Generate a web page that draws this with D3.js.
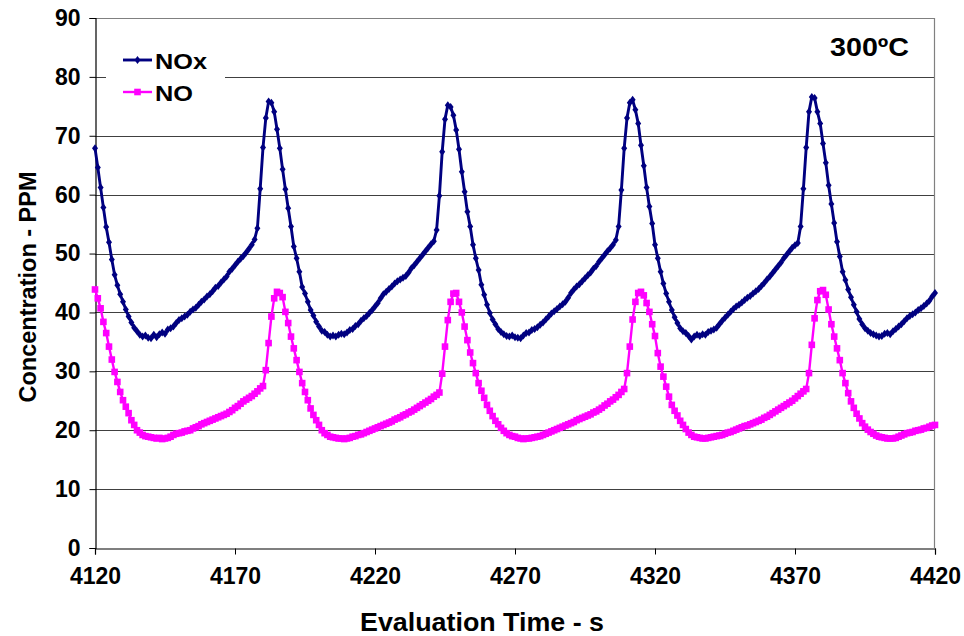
<!DOCTYPE html>
<html>
<head>
<meta charset="utf-8">
<script src="https://cdn.jsdelivr.net/npm/d3@7"></script>
<style>
  html, body { margin: 0; padding: 0; background: #fff; }
  svg { display: block; font-family: "Liberation Sans", Arial, sans-serif; }
</style>
</head>
<body>
<svg id="chart" width="964" height="636"></svg>
<script>
// ---- data (1 sample per second from 4120 s) ----
const startTime = 4120;
const xTicks = [4120, 4170, 4220, 4270, 4320, 4370, 4420];
const yTicks = [0, 10, 20, 30, 40, 50, 60, 70, 80, 90];
const seriesNames = ["NOx", "NO"];
const tempLabel = "300ºC";

const noxValues = [
  67.9, 64.6, 61.2, 57.8, 54.5, 51.9, 49.0, 46.4, 44.6, 43.1,
  41.8, 40.5, 39.3, 38.3, 37.4, 36.8, 36.2, 35.9, 36.1, 35.7,
  35.6, 36.2, 35.8, 36.3, 36.6, 36.4, 37.1, 37.3, 37.6, 38.2,
  38.7, 39.0, 39.3, 39.6, 40.1, 40.5, 40.8, 41.3, 41.8, 42.2,
  42.7, 43.1, 43.6, 44.2, 44.5, 45.1, 45.6, 46.1, 46.9, 47.4,
  48.0, 48.6, 49.1, 49.6, 50.2, 50.8, 51.5, 52.4, 54.3, 61.0,
  68.0, 73.0, 75.8, 75.6, 74.1, 71.1, 67.9, 64.3, 60.9, 57.7,
  54.6, 51.2, 49.2, 46.9, 44.3, 43.2, 41.8, 40.4, 39.5, 38.4,
  37.6, 36.9, 36.7, 36.2, 35.9, 36.1, 35.9, 36.2, 36.4, 36.3,
  36.6, 37.0, 37.2, 37.7, 38.0, 38.6, 39.0, 39.4, 39.9, 40.4,
  41.0, 41.6, 42.4, 43.1, 43.5, 44.0, 44.4, 44.9, 45.3, 45.6,
  45.9, 46.2, 46.8, 47.5, 48.0, 48.6, 49.2, 49.8, 50.4, 51.0,
  51.6, 52.1, 54.0, 59.8, 67.3, 72.8, 75.2, 74.9, 73.5, 71.0,
  67.7, 63.9, 60.5, 57.1, 54.6, 51.5, 49.2, 47.2, 44.7, 43.0,
  41.3, 39.9, 38.8, 38.0, 37.2, 36.7, 36.3, 36.0, 35.9, 36.1,
  35.8, 35.7, 35.6, 36.1, 36.5, 36.6, 37.0, 37.2, 37.5, 37.9,
  38.3, 38.8, 39.3, 39.8, 40.2, 40.6, 41.0, 41.4, 41.8, 42.5,
  43.3, 43.9, 44.4, 44.8, 45.3, 45.8, 46.3, 46.8, 47.4, 47.9,
  48.6, 49.2, 49.8, 50.4, 50.9, 51.5, 52.3, 54.6, 60.8, 67.9,
  73.0, 75.6, 76.1, 74.4, 72.1, 68.4, 64.9, 61.2, 58.0, 55.1,
  51.5, 49.2, 46.9, 44.9, 43.2, 41.8, 40.4, 39.2, 38.2, 37.3,
  36.8, 36.5, 36.0, 35.4, 35.9, 36.2, 36.0, 36.3, 36.2, 36.7,
  36.9, 37.1, 37.4, 38.0, 38.6, 39.1, 39.6, 40.1, 40.6, 41.0,
  41.3, 41.7, 42.1, 42.5, 42.8, 43.2, 43.6, 44.0, 44.5, 45.0,
  45.6, 46.1, 46.7, 47.3, 47.9, 48.5, 49.2, 49.8, 50.4, 51.0,
  51.4, 51.8, 54.6, 61.0, 68.0, 74.1, 76.6, 76.4, 74.1, 72.1,
  68.7, 65.4, 61.6, 58.4, 55.2, 52.0, 49.5, 46.9, 45.5, 43.9,
  42.6, 41.3, 40.1, 38.9, 38.0, 37.3, 36.9, 36.5, 36.3, 36.1,
  35.9, 36.0, 36.4, 36.5, 36.3, 36.8, 37.2, 37.6, 38.0, 38.5,
  39.0, 39.4, 39.7, 40.0, 40.4, 40.7, 41.1, 41.5, 42.0, 42.7,
  43.3
];

const noValues = [
  43.9, 42.4, 40.7, 38.4, 36.5, 34.2, 32.0, 29.9, 28.2, 26.5,
  25.1, 24.0, 22.9, 21.7, 20.9, 20.0, 19.6, 19.2, 19.0, 18.9,
  18.8, 18.7, 18.6, 18.7, 18.5, 18.6, 18.7, 18.9, 19.2, 19.4,
  19.5, 19.6, 19.8, 19.9, 20.0, 20.3, 20.5, 20.7, 21.0, 21.2,
  21.4, 21.6, 21.8, 22.0, 22.2, 22.4, 22.6, 22.8, 23.1, 23.4,
  23.8, 24.1, 24.5, 24.9, 25.2, 25.5, 25.8, 26.2, 26.6, 27.1,
  27.5, 30.2, 34.8, 39.3, 42.4, 43.5, 43.3, 42.6, 40.1, 38.2,
  35.9, 33.9, 31.9, 29.9, 28.0, 26.5, 25.1, 23.7, 22.6, 21.7,
  20.9, 20.0, 19.5, 19.2, 18.9, 18.8, 18.7, 18.6, 18.6, 18.5,
  18.6, 18.7, 18.9, 19.0, 19.2, 19.3, 19.5, 19.7, 19.9, 20.1,
  20.3, 20.5, 20.7, 20.9, 21.1, 21.3, 21.5, 21.8, 22.0, 22.2,
  22.5, 22.7, 23.0, 23.2, 23.5, 23.8, 24.1, 24.4, 24.7, 25.0,
  25.3, 25.7, 26.0, 26.4, 29.6, 34.2, 38.7, 41.8, 43.2, 43.3,
  41.8, 40.0, 37.6, 35.3, 33.2, 31.4, 29.7, 28.0, 26.7, 25.5,
  24.3, 23.3, 22.4, 21.6, 21.0, 20.4, 19.9, 19.5, 19.2, 19.0,
  18.9, 18.7, 18.6, 18.5, 18.6, 18.6, 18.7, 18.8, 18.9, 19.0,
  19.2, 19.4, 19.6, 19.8, 20.0, 20.2, 20.4, 20.6, 20.8, 21.0,
  21.2, 21.4, 21.7, 21.9, 22.1, 22.3, 22.5, 22.7, 23.0, 23.2,
  23.5, 23.8, 24.2, 24.5, 24.9, 25.2, 25.6, 26.0, 26.5, 27.0,
  29.7, 34.2, 38.8, 41.8, 43.3, 43.5, 42.9, 41.6, 40.1, 38.0,
  36.0, 33.1, 30.8, 29.1, 27.4, 25.7, 24.3, 23.3, 22.5, 21.6,
  20.9, 20.2, 19.6, 19.2, 18.9, 18.8, 18.7, 18.6, 18.6, 18.7,
  18.8, 18.9, 19.0, 19.1, 19.2, 19.4, 19.6, 19.7, 19.9, 20.1,
  20.3, 20.5, 20.7, 20.8, 21.0, 21.2, 21.4, 21.6, 21.8, 22.1,
  22.3, 22.6, 22.9, 23.2, 23.5, 23.8, 24.1, 24.4, 24.7, 25.0,
  25.4, 25.8, 26.2, 26.6, 27.0, 29.7, 34.5, 39.0, 42.1, 43.6,
  43.8, 43.0, 40.5, 38.0, 35.9, 33.9, 31.9, 29.7, 28.0, 26.3,
  24.9, 23.8, 22.8, 22.0, 21.2, 20.6, 20.1, 19.7, 19.4, 19.1,
  18.9, 18.8, 18.7, 18.6, 18.6, 18.6, 18.7, 18.9, 19.1, 19.3,
  19.5, 19.6, 19.7, 19.9, 20.0, 20.1, 20.3, 20.4, 20.6, 20.8,
  20.9
];

// ---- layout ----
const svg = d3.select("#chart");
const plotLeft = 95, plotRight = 935, plotTop = 18, plotBottom = 548;
const x = d3.scaleLinear().domain([4120, 4420]).range([plotLeft, plotRight]);
const y = d3.scaleLinear().domain([0, 90]).range([plotBottom, plotTop]);

const noxData = noxValues.map((v, i) => ({ t: startTime + i, v }));
const noData = noValues.map((v, i) => ({ t: startTime + i, v }));

const NOX_COLOR = "#000080", NO_COLOR = "#FF00FF";
const FONT = "Liberation Sans, Arial, sans-serif";

// gridlines
svg.append("g").selectAll("line").data(yTicks.filter(d => d > 0 && d < 90)).join("line")
  .attr("x1", plotLeft).attr("x2", plotRight)
  .attr("y1", d => Math.round(y(d)) + 0.5).attr("y2", d => Math.round(y(d)) + 0.5)
  .attr("stroke", "#404040").attr("stroke-width", 1);

// plot border top/right (gray)
svg.append("path")
  .attr("d", `M${plotLeft},${plotTop + 0.5}H${plotRight - 0.5}V${plotBottom}`)
  .attr("fill", "none").attr("stroke", "#808080").attr("stroke-width", 1.2);

// axes
const yAxis = d3.axisLeft(y).tickValues(yTicks).tickSize(6).tickPadding(9).tickFormat(d3.format("d"));
const gy = svg.append("g").attr("transform", `translate(${plotLeft + 0.5},0)`).call(yAxis);
gy.select(".domain").attr("stroke", "#000").attr("stroke-width", 1.2);
gy.selectAll(".tick line").attr("stroke", "#000");
gy.selectAll(".tick text").attr("font-size", 23).attr("font-weight", "bold")
  .attr("font-family", FONT).attr("fill", "#000");

const xAxis = d3.axisBottom(x).tickValues(xTicks).tickSize(6).tickPadding(13).tickFormat(d3.format("d"));
const gx = svg.append("g").attr("transform", `translate(0,${plotBottom + 0.5})`).call(xAxis);
gx.select(".domain").attr("stroke", "#000").attr("stroke-width", 1.2);
gx.selectAll(".tick line").attr("stroke", "#000");
gx.selectAll(".tick text").attr("font-size", 23).attr("font-weight", "bold")
  .attr("font-family", FONT).attr("fill", "#000");

// axis titles
svg.append("text").attr("x", 482).attr("y", 631)
  .attr("text-anchor", "middle").attr("font-size", 25).attr("font-weight", "bold")
  .attr("textLength", 244).attr("lengthAdjust", "spacingAndGlyphs")
  .text("Evaluation Time - s");
svg.append("text").attr("transform", `translate(36,287) rotate(-90)`)
  .attr("text-anchor", "middle").attr("font-size", 23.5).attr("font-weight", "bold")
  .text("Concentration - PPM");

// lines
const line = d3.line().x(d => x(d.t)).y(d => y(d.v));
svg.append("path").datum(noData).attr("d", line)
  .attr("fill", "none").attr("stroke", NO_COLOR).attr("stroke-width", 2.4).attr("stroke-linejoin", "round");
svg.append("g").selectAll("rect").data(noData).join("rect")
  .attr("x", d => x(d.t) - 3.3).attr("y", d => y(d.v) - 3.3)
  .attr("width", 6.6).attr("height", 6.6).attr("fill", NO_COLOR);

svg.append("path").datum(noxData).attr("d", line)
  .attr("fill", "none").attr("stroke", NOX_COLOR).attr("stroke-width", 2.9).attr("stroke-linejoin", "round");
const diamond = "M0,-4L3,0L0,4L-3,0Z";
svg.append("g").selectAll("path").data(noxData).join("path")
  .attr("transform", d => `translate(${x(d.t)},${y(d.v)})`)
  .attr("d", diamond).attr("fill", NOX_COLOR);

// legend
const legend = svg.append("g");
legend.append("rect").attr("x", 106).attr("y", 42).attr("width", 119).attr("height", 66).attr("fill", "#fff");
const legItems = [
  { name: seriesNames[0], color: NOX_COLOR, yy: 60, shape: "diamond", len: 52 },
  { name: seriesNames[1], color: NO_COLOR, yy: 92, shape: "square", len: 38 }
];
legItems.forEach(it => {
  legend.append("line").attr("x1", 123).attr("x2", 152).attr("y1", it.yy).attr("y2", it.yy)
    .attr("stroke", it.color).attr("stroke-width", it.shape === "diamond" ? 2.9 : 2.4);
  if (it.shape === "diamond") {
    legend.append("path").attr("transform", `translate(137.5,${it.yy})`).attr("d", diamond).attr("fill", it.color);
  } else {
    legend.append("rect").attr("x", 134.2).attr("y", it.yy - 3.3).attr("width", 6.6).attr("height", 6.6).attr("fill", it.color);
  }
  legend.append("text").attr("x", 155).attr("y", it.yy + 9).attr("font-size", 22).attr("font-weight", "bold")
    .attr("textLength", it.len).attr("lengthAdjust", "spacingAndGlyphs")
    .attr("fill", "#000").text(it.name);
});

// temperature label
svg.append("text").attr("x", 830).attr("y", 56)
  .attr("font-size", 25).attr("font-weight", "bold")
  .attr("textLength", 79).attr("lengthAdjust", "spacingAndGlyphs")
  .text(tempLabel);
</script>
</body>
</html>
